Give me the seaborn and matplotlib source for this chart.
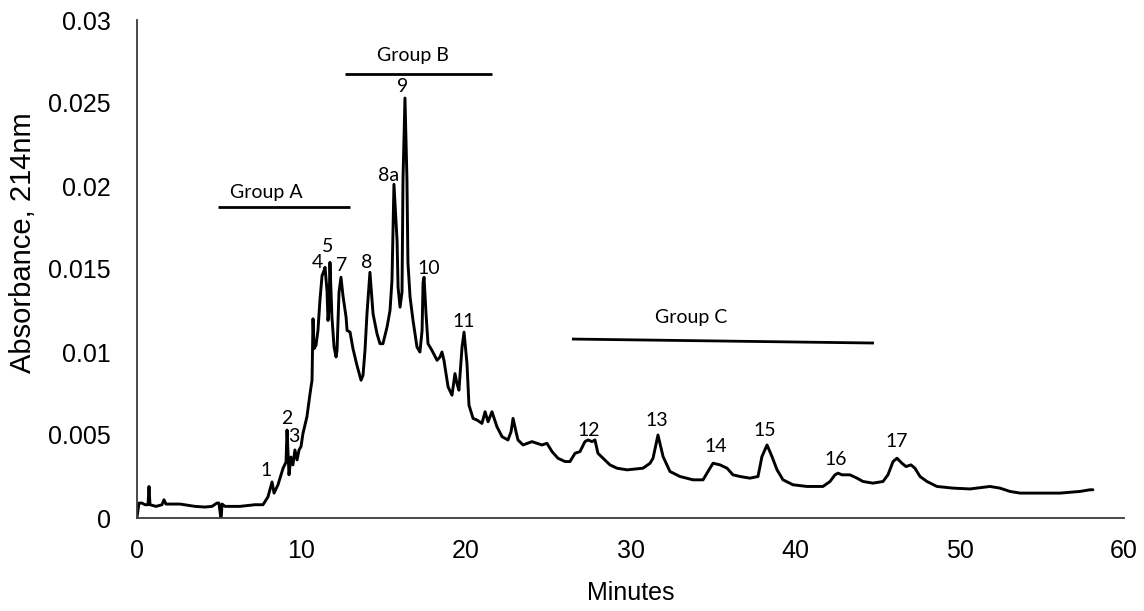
import matplotlib
matplotlib.use("Agg")
import matplotlib.pyplot as plt
import seaborn as sns
import pandas as pd
import numpy as np

# ---- data ----
minutes = [0.00, 0.12, 0.30, 0.49, 0.67, 0.73, 0.79, 1.16, 1.52, 1.64, 1.76, 2.61, 3.53, 4.13,
           4.56, 4.86, 4.98, 5.11, 5.17, 5.35, 6.26, 7.17, 7.66, 7.96, 8.21, 8.33, 8.57, 8.88,
           9.06, 9.12, 9.24, 9.36, 9.48, 9.60, 9.73, 9.85, 9.97, 10.09, 10.33, 10.52, 10.64,
           10.67, 10.70, 10.76, 10.88, 11.00, 11.12, 11.25, 11.37, 11.43, 11.55, 11.61, 11.67,
           11.73, 11.85, 11.98, 12.10, 12.16, 12.28, 12.40, 12.52, 12.71, 12.77, 12.95, 13.13,
           13.37, 13.62, 13.74, 13.86, 13.98, 14.16, 14.35, 14.59, 14.77, 14.95, 15.20, 15.38,
           15.50, 15.62, 15.81, 15.87, 15.99, 16.11, 16.17, 16.29, 16.41, 16.47, 16.60, 16.78,
           17.02, 17.20, 17.33, 17.39, 17.45, 17.57, 17.69, 17.93, 18.24, 18.42, 18.54, 18.66,
           18.91, 19.15, 19.33, 19.45, 19.57, 19.76, 19.88, 20.06, 20.18, 20.43, 20.67, 20.97,
           21.16, 21.34, 21.58, 21.88, 22.19, 22.55, 22.74, 22.86, 23.04, 23.16, 23.47, 24.01,
           24.32, 24.62, 24.92, 25.23, 25.59, 26.02, 26.32, 26.63, 26.93, 27.23, 27.42, 27.66,
           27.84, 28.02, 28.33, 28.75, 29.18, 29.79, 30.76, 31.19, 31.37, 31.67, 31.98, 32.40,
           33.01, 33.80, 34.41, 34.83, 35.02, 35.44, 35.87, 36.23, 36.66, 37.26, 37.75, 37.99,
           38.30, 38.60, 38.91, 39.27, 39.88, 40.73, 41.70, 42.13, 42.43, 42.61, 42.86, 43.34,
           43.77, 44.13, 44.74, 45.35, 45.65, 45.96, 46.20, 46.50, 46.75, 47.05, 47.29, 47.60,
           48.02, 48.63, 49.60, 50.64, 51.85, 52.46, 53.07, 53.68, 54.71, 56.11, 57.32, 57.93,
           58.11]
absorbance = [0.00006, 0.0009, 0.0009, 0.0008, 0.0008, 0.0019, 0.0008, 0.0007, 0.0008, 0.0011,
              0.00084, 0.00084, 0.0007, 0.00066, 0.0007, 0.0009, 0.0009, -0.0001, 0.00084,
              0.0007, 0.0007, 0.0008, 0.0008, 0.00127, 0.00217, 0.0015, 0.0020, 0.0030, 0.00337,
              0.0053, 0.0026, 0.00367, 0.0032, 0.0041, 0.0035, 0.0041, 0.0043, 0.0051, 0.0061,
              0.0075, 0.0083, 0.0100, 0.0120, 0.0102, 0.0104, 0.0113, 0.0131, 0.0146, 0.0149,
              0.0151, 0.0137, 0.0119, 0.0125, 0.0154, 0.0121, 0.0103, 0.0097, 0.0101, 0.0136,
              0.0145, 0.0134, 0.0121, 0.0113, 0.0112, 0.0102, 0.0092, 0.0083, 0.0086, 0.0101,
              0.0123, 0.0148, 0.0123, 0.0111, 0.0105, 0.0105, 0.0115, 0.0125, 0.0143, 0.0201,
              0.0167, 0.0139, 0.0127, 0.0136, 0.0204, 0.0253, 0.0204, 0.0154, 0.0133, 0.0119,
              0.0103, 0.0100, 0.0113, 0.0142, 0.0145, 0.0123, 0.0105, 0.0101, 0.0095, 0.0097,
              0.0100, 0.0095, 0.0079, 0.0074, 0.0087, 0.0081, 0.0077, 0.0103, 0.0112, 0.0093,
              0.0068, 0.0060, 0.0059, 0.0057, 0.0064, 0.0058, 0.0064, 0.0055, 0.0049, 0.0047,
              0.0052, 0.0060, 0.0052, 0.0047, 0.0044, 0.0046, 0.0045, 0.0044, 0.0045, 0.0040,
              0.0036, 0.0034, 0.0034, 0.0039, 0.0040, 0.0046, 0.0047, 0.0046, 0.0047, 0.0039,
              0.0036, 0.0032, 0.0030, 0.0029, 0.0030, 0.0033, 0.0036, 0.0050, 0.0037, 0.0028,
              0.0025, 0.0023, 0.0023, 0.0030, 0.0033, 0.0032, 0.0030, 0.0026, 0.0025, 0.0024,
              0.0025, 0.0037, 0.0044, 0.0037, 0.0029, 0.0023, 0.0020, 0.0019, 0.0019, 0.0022,
              0.0026, 0.0027, 0.0026, 0.0026, 0.0024, 0.0022, 0.0021, 0.0022, 0.0026, 0.0034,
              0.0036, 0.0033, 0.0031, 0.0032, 0.0030, 0.0025, 0.0022, 0.0019, 0.0018, 0.00175,
              0.0019, 0.0018, 0.0016, 0.0015, 0.0015, 0.0015, 0.0016, 0.0017, 0.0017]

peak_labels = ["1", "2", "3", "4", "5", "7", "8", "8a", "9", "10", "11",
               "12", "13", "14", "15", "16", "17"]
peak_label_x = [7.84, 9.12, 9.54, 10.94, 11.61, 12.46, 13.98, 15.32, 16.17, 17.75, 19.88,
                27.48, 31.61, 35.20, 38.18, 42.49, 46.20]
peak_label_y = [0.00289, 0.00602, 0.00488, 0.01542, 0.01633, 0.01524, 0.01542, 0.02066,
                0.02602, 0.01506, 0.01181, 0.0053, 0.0059, 0.00428, 0.0053, 0.0035, 0.00458]

group_names = ["Group A", "Group B", "Group C"]
group_start = [4.92, 12.64, 26.44]
group_end = [12.95, 21.58, 44.80]
group_line_y_start = [0.01873, 0.02675, 0.01078]
group_line_y_end = [0.01873, 0.02675, 0.01054]
group_text_x = [7.84, 16.78, 33.68]
group_text_y = [0.01958, 0.02789, 0.01205]

x_ticks = [0, 10, 20, 30, 40, 50, 60]
y_ticks = [0, 0.005, 0.01, 0.015, 0.02, 0.025, 0.03]
y_tick_labels = ["0", "0.005", "0.01", "0.015", "0.02", "0.025", "0.03"]

# ---- plot ----
sns.set_theme(style="white")
plt.rcParams["font.family"] = ["Liberation Sans", "DejaVu Sans"]

fig = plt.figure(figsize=(11.44, 6.11), dpi=100)
ax = fig.add_axes([137/1144, 1 - 518/611, (1124 - 137)/1144, (518 - 20)/611])

df = pd.DataFrame({"Minutes": minutes, "Absorbance": absorbance})
sns.lineplot(data=df, x="Minutes", y="Absorbance", ax=ax, color="black",
             linewidth=2.1, estimator=None, sort=False)

ax.set_xlim(0, 60)
ax.set_ylim(0, 0.03)
ax.set_xticks(x_ticks)
ax.set_xticklabels([str(v) for v in x_ticks])
ax.set_yticks(y_ticks)
ax.set_yticklabels(y_tick_labels)
ax.tick_params(axis="both", length=0, labelsize=18, colors="black")
ax.tick_params(axis="y", pad=19)
ax.tick_params(axis="x", pad=15)

for side in ["top", "right"]:
    ax.spines[side].set_visible(False)
for side in ["left", "bottom"]:
    ax.spines[side].set_color("#3a3a3a")
    ax.spines[side].set_linewidth(1.3)
ax.grid(False)

ax.set_xlabel("Minutes", fontsize=18, color="black")
ax.set_ylabel("Absorbance, 214nm", fontsize=21, color="black")
ax.xaxis.set_label_coords(0.5, -0.127)
ax.yaxis.set_label_coords(-0.101, 0.552)

ann_font = ["Lato", "DejaVu Sans"]
for lab, lx, ly in zip(peak_labels, peak_label_x, peak_label_y):
    ax.text(lx, ly, lab, fontsize=14, family=ann_font, ha="center", va="center", color="black")

for name, xs, xe, ys, ye, tx, ty in zip(group_names, group_start, group_end,
                                       group_line_y_start, group_line_y_end,
                                       group_text_x, group_text_y):
    ax.plot([xs, xe], [ys, ye], color="black", linewidth=2.0, solid_capstyle="butt")
    ax.text(tx, ty, name, fontsize=14, family=ann_font, ha="center", va="center", color="black")

fig.savefig("out.png", dpi=100)
